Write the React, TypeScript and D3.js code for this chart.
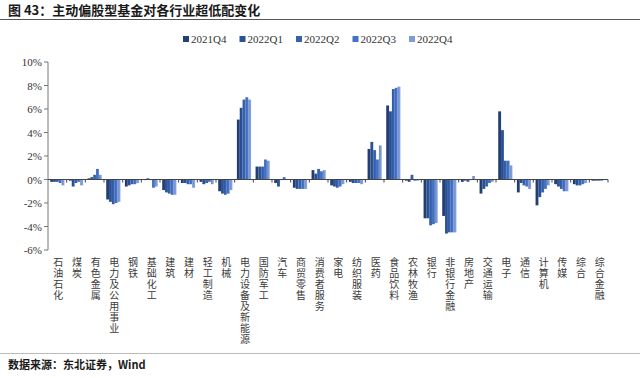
import React from "react";
import * as d3 from "d3";

const categories = ["石油石化","煤炭","有色金属","电力及公用事业","钢铁","基础化工","建筑","建材","轻工制造","机械","电力设备及新能源","国防军工","汽车","商贸零售","消费者服务","家电","纺织服装","医药","食品饮料","农林牧渔","银行","非银行金融","房地产","交通运输","电子","通信","计算机","传媒","综合","综合金融"];
const seriesNames = ["2021Q4","2022Q1","2022Q2","2022Q3","2022Q4"];
const s2021Q4 = [-0.2,-0.1,0.1,-1.7,-0.6,0.0,-0.9,-0.3,-0.2,-1.0,5.1,1.1,-0.3,-0.7,0.8,-0.5,-0.2,2.6,6.3,-0.1,-3.3,-3.1,-0.2,-1.2,5.8,-1.1,-2.2,-0.4,-0.4,-0.1];
const s2022Q1 = [-0.2,-0.6,0.2,-1.9,-0.5,0.1,-1.1,-0.3,-0.4,-1.2,6.1,1.1,-0.6,-0.8,0.5,-0.6,-0.3,3.2,5.8,-0.2,-3.3,-4.6,-0.1,-0.8,4.2,-0.3,-1.5,-0.6,-0.5,-0.1];
const s2022Q2 = [-0.2,-0.3,0.4,-2.1,-0.4,0.0,-1.2,-0.4,-0.3,-1.3,6.8,1.1,0.0,-0.8,0.9,-0.7,-0.3,2.5,7.7,0.4,-3.9,-4.5,-0.2,-0.6,1.6,-0.5,-1.1,-0.8,-0.5,-0.1];
const s2022Q3 = [-0.3,-0.2,0.9,-2.0,-0.4,-0.7,-1.3,-0.4,-0.2,-1.2,7.0,1.7,0.2,-0.8,0.7,-0.6,-0.3,1.7,7.8,-0.1,-3.8,-4.5,0.0,-0.3,1.6,-0.6,-0.8,-1.0,-0.4,-0.1];
const s2022Q4 = [-0.5,-0.5,0.4,-1.9,-0.3,-0.6,-1.3,-0.7,-0.4,-0.9,6.8,1.6,0.0,-0.8,0.8,-0.4,-0.4,2.9,7.9,-0.1,-3.7,-4.5,0.3,-0.2,1.2,-0.8,-0.5,-1.0,-0.3,-0.05];
const yTicks = [10,8,6,4,2,0,-2,-4,-6];
const colors = ["#233f74","#2b5196","#3561b0","#4371c6","#7e9bd6"];

const seriesValues = [s2021Q4, s2022Q1, s2022Q2, s2022Q3, s2022Q4];

export default function App() {
  const W = 640, H = 378;
  const left = 48, right = 608, top = 62, bottom = 250;
  const y = d3.scaleLinear().domain([-6, 10]).range([bottom, top]);
  const x0 = d3.scaleBand<string>().domain(categories).range([left, right]).paddingInner(0.24).paddingOuter(0.12);
  const xCat = d3.scaleBand<string>().domain(categories).range([left, right]);
  const x1 = d3.scaleBand<string>().domain(seriesNames).range([0, x0.bandwidth()]);
  const y0 = y(0);
  const font = "'Liberation Serif', 'DejaVu Serif', serif";
  const cjk = "'Noto Sans CJK SC', sans-serif";
  const legendX = d3.scalePoint<string>().domain(seriesNames).range([183, 409]);

  return (
    <svg width={W} height={H} style={{ position: "absolute", left: 0, top: 0, background: "#fff" }}>
      <defs>
        {colors.map((c, i) => (
          <linearGradient key={i} id={`g${i}`} x1="0" x2="1" y1="0" y2="0">
            <stop offset="0" stopColor={d3.color(c)!.darker(0.35).formatHex()} />
            <stop offset="1" stopColor={d3.color(c)!.brighter(0.25).formatHex()} />
          </linearGradient>
        ))}
      </defs>
      <text x={8} y={15} fontFamily={cjk} fontWeight={700} fontSize={13} fill="#1a1a1a">图 43：主动偏股型基金对各行业超低配变化</text>
      <line x1={0} x2={640} y1={19.5} y2={19.5} stroke="#555" strokeWidth={1.2} />
      {seriesNames.map((s, i) => (
        <g key={s} transform={`translate(${legendX(s)},40)`}>
          <rect x={0} y={-4} width={6} height={6} fill={colors[i]} />
          <text x={8} y={3} fontFamily={font} fontSize={11} fill="#333">{s}</text>
        </g>
      ))}
      {yTicks.map(t => (
        <g key={t}>
          <line x1={left - 4} x2={left} y1={y(t)} y2={y(t)} stroke="#777" />
          <text x={left - 6} y={y(t) + 4} textAnchor="end" fontFamily={font} fontSize={11} fill="#333">{t}%</text>
        </g>
      ))}
      <line x1={left} x2={left} y1={top} y2={bottom} stroke="#777" />
      {categories.map((c, ci) => (
        <g key={c}>
          {seriesValues.map((vals, si) => {
            const v = vals[ci];
            const yy = y(Math.max(0, v));
            const hh = Math.abs(y(v) - y0);
            return <rect key={si} x={(x0(c) as number) + (x1(seriesNames[si]) as number)} y={yy} width={x1.bandwidth()} height={Math.max(hh, 0.6)} fill={`url(#g${si})`} />;
          })}
        </g>
      ))}
      <line x1={left} x2={right} y1={y0} y2={y0} stroke="#444" />
      {categories.map((c, ci) => (
        <line key={c} x1={(xCat(c) as number) + xCat.bandwidth()} x2={(xCat(c) as number) + xCat.bandwidth()} y1={y0} y2={y0 + 3} stroke="#444" />
      ))}
      {categories.map(c => {
        const cx = (xCat(c) as number) + xCat.bandwidth() / 2 + 1;
        return (
          <text key={c} x={cx} y={257} fontFamily={cjk} fontSize={10} fill="#3a3a3a"
            writingMode="vertical-rl" letterSpacing={1}
            style={{ writingMode: "vertical-rl", textOrientation: "upright" } as any}>
            {c}
          </text>
        );
      })}
      <line x1={0} x2={640} y1={353.5} y2={353.5} stroke="#bbb" strokeWidth={1} />
      <text x={8} y={369} fontFamily={cjk} fontWeight={700} fontSize={11} fill="#1a1a1a">数据来源：东北证券，Wind</text>
    </svg>
  );
}
